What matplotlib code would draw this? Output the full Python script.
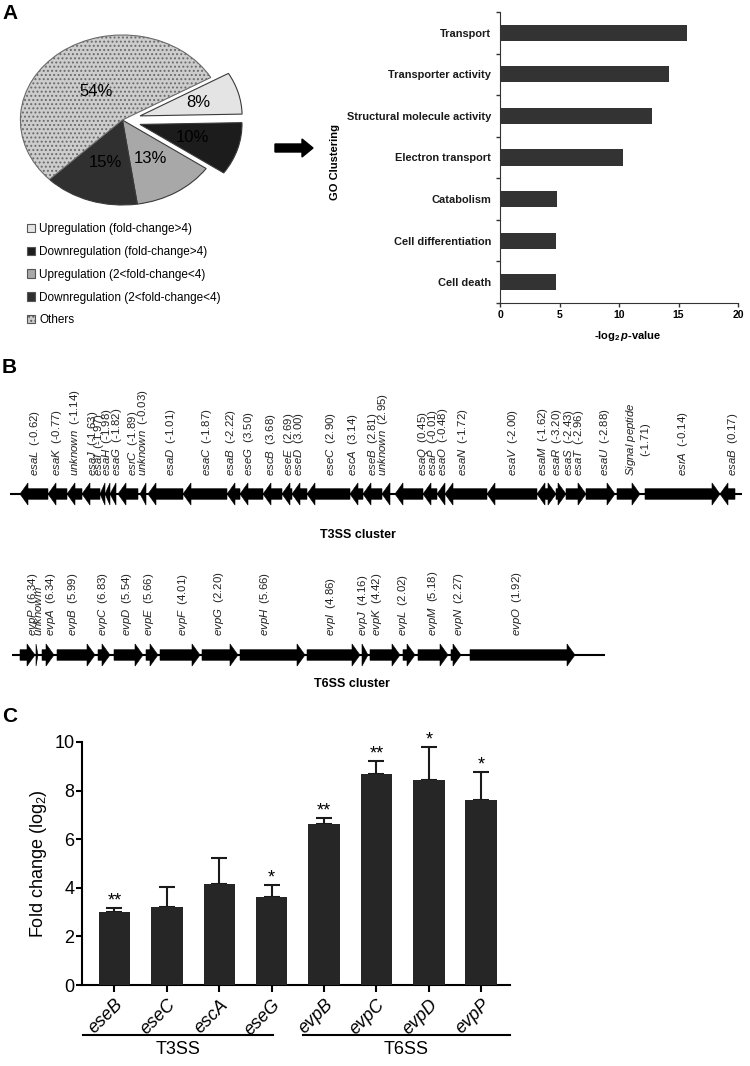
import matplotlib
matplotlib.use('Agg')
import matplotlib.pyplot as plt
from matplotlib.patches import Polygon, Patch, FancyArrow
from matplotlib.transforms import blended_transform_factory as blend
import numpy as np

plt.rcParams['font.family'] = ['Liberation Sans', 'DejaVu Sans']
plt.rcParams['mathtext.fontset'] = 'custom'
plt.rcParams['mathtext.rm'] = 'Liberation Sans'
plt.rcParams['mathtext.it'] = 'Liberation Sans:italic'
plt.rcParams['mathtext.bf'] = 'Liberation Sans:bold'
plt.rcParams['mathtext.bfit'] = 'Liberation Sans:italic:bold'
plt.rcParams['hatch.linewidth'] = 0.9

# ---------------- data ----------------
pie_labels = ['Upregulation (fold-change>4)', 'Downregulation (fold-change>4)',
              'Upregulation (2<fold-change<4)', 'Downregulation (2<fold-change<4)', 'Others']
pie_shares = [8, 10, 13, 15, 54]

go_terms = ['Transport', 'Transporter activity', 'Structural molecule activity',
            'Electron transport', 'Catabolism', 'Cell differentiation', 'Cell death']
go_values = [15.7, 14.2, 12.8, 10.3, 4.8, 4.7, 4.7]

t3_names = ['esaL', 'esaK', 'unknown', 'esaJ', 'esaI', 'esaH', 'esaG', 'esrC', 'unknown',
            'esaD', 'esaC', 'esaB', 'eseG', 'escB', 'eseE', 'eseD', 'eseC', 'escA', 'eseB',
            'unknown', 'esaQ', 'esaP', 'esaO', 'esaN', 'esaV', 'esaM', 'esaR', 'esaS', 'esaT',
            'esaU', 'Signal peptide', 'esrA', 'esaB']
t3_values = [-0.62, -0.77, -1.14, -1.63, -1.97, -1.98, -1.82, -1.89, -0.03,
             -1.01, -1.87, -2.22, 3.50, 3.68, 2.69, 3.00, 2.90, 3.14, 2.81,
             2.95, 0.45, -0.01, -0.48, -1.72, -2.00, -1.62, -3.20, -2.43, -2.96,
             -2.88, -1.71, -0.14, 0.17]
t3_start = [20, 48, 67, 82, 100, 105, 110, 118, 140, 148, 183, 227, 240, 263, 282, 292, 307,
            350, 363, 382, 395, 423, 437, 445, 487, 537, 547, 556, 566, 586, 617, 645, 720]
t3_end = [48, 67, 82, 100, 105, 110, 116, 138, 146, 183, 227, 240, 263, 282, 292, 307, 350,
          363, 382, 390, 423, 437, 445, 487, 537, 547, 556, 566, 586, 615, 640, 720, 735]
t3_strand = [-1] * 26 + [1, 1, 1, 1, 1, 1, -1]

t6_names = ['evpP', 'unknowm', 'evpA', 'evpB', 'evpC', 'evpD', 'evpE', 'evpF', 'evpG',
            'evpH', 'evpI', 'evpJ', 'evpK', 'evpL', 'evpM', 'evpN', 'evpO']
t6_values = [6.34, None, 6.34, 5.99, 6.83, 5.54, 5.66, 4.01, 2.20,
             5.66, 4.86, 4.16, 4.42, 2.02, 5.18, 2.27, 1.92]
t6_start = [20, 36, 42, 57, 98, 114, 146, 160, 202, 240, 307, 362, 370, 403, 418, 451, 470]
t6_end = [35, 38, 54, 95, 110, 143, 158, 200, 238, 305, 360, 368, 400, 415, 448, 461, 575]
t6_strand = [1] * 17

c_genes = ['eseB', 'eseC', 'escA', 'eseG', 'evpB', 'evpC', 'evpD', 'evpP']
c_values = [3.02, 3.2, 4.17, 3.62, 6.63, 8.67, 8.44, 7.6]
c_errors = [0.14, 0.82, 1.07, 0.51, 0.26, 0.56, 1.34, 1.15]
c_stars = ['**', '', '', '*', '**', '**', '*', '*']
c_groups = ['T3SS', 'T6SS']

# ---------------- layout helpers ----------------
W, H = 750, 1066
fig = plt.figure(figsize=(W / 100, H / 100), dpi=100)


def rect(x0, y0, x1, y1):
    return [x0 / W, 1 - y1 / H, (x1 - x0) / W, (y1 - y0) / H]


ov = fig.add_axes([0, 0, 1, 1])
ov.set_xlim(0, W)
ov.set_ylim(H, 0)
ov.axis('off')
ov.set_zorder(10)

for letter, (lx, ly) in zip('ABC', [(2, 4), (2, 358), (2, 707)]):
    ov.text(lx, ly, letter, fontsize=15, weight='bold', ha='left', va='top')

# ---------------- Panel A: pie ----------------
pie_colors = ['#e4e4e4', '#1c1c1c', '#a8a8a8', '#303030', '#cdcdcd']
pa = fig.add_axes(rect(0, 26.5, 255, 213.5))
wedges, texts, autotexts = pa.pie(
    pie_shares, explode=[0.18, 0.18, 0, 0, 0], colors=pie_colors, startangle=30,
    counterclock=False, autopct='%d%%', pctdistance=0.55,
    wedgeprops=dict(edgecolor='#3a3a3a', linewidth=0.8),
    textprops=dict(fontsize=12, color='black'))
wedges[4].set_hatch('....')
wedges[4].set_edgecolor('#6a6a6a')
for w, t, d in zip(wedges, autotexts, [0.59, 0.54, 0.53, 0.53, 0.42]):
    mid = np.deg2rad((w.theta1 + w.theta2) / 2)
    cxw, cyw = w.center
    t.set_position((cxw + d * w.r * np.cos(mid), cyw + d * w.r * np.sin(mid)))
pa.set_aspect('auto')
pa.set_xlim(-1.2, 1.3)
pa.set_ylim(-1.1, 1.1)

handles = [Patch(facecolor=c, edgecolor='#555555', linewidth=0.8) for c in pie_colors]
handles[4].set_hatch('....')
fig.legend(handles, pie_labels, loc='upper left', bbox_to_anchor=(27 / W, 1 - 223 / H),
           frameon=False, fontsize=8.5, handlelength=0.7, handleheight=0.7,
           handletextpad=0.35, labelspacing=0.92, borderaxespad=0, borderpad=0)

ov.add_patch(FancyArrow(275, 148, 38, 0, width=8, head_width=18, head_length=11,
                        length_includes_head=True, color='black'))

# ---------------- Panel A: GO bars ----------------
narrow = ['Liberation Sans Narrow', 'Liberation Sans']
gx = fig.add_axes(rect(500, 12, 738, 303))
gy = np.arange(len(go_terms))
gx.barh(gy, go_values, height=0.39, color='#333333')
gx.set_xlim(0, 20)
gx.set_ylim(len(go_terms) - 0.5, -0.5)
gx.set_yticks(gy)
gx.set_yticklabels(go_terms, fontsize=7.9, family=narrow, weight='bold', color='#1a1a1a')
gx.set_yticks(np.arange(-0.5, len(go_terms)), minor=True)
gx.tick_params(axis='y', which='major', length=0, pad=6.5)
gx.tick_params(axis='y', which='minor', length=3, width=1, color='#333333')
gx.set_xticks([0, 5, 10, 15, 20])
gx.set_xticklabels(['0', '5', '10', '15', '20'], fontsize=7.5, family=narrow, weight='bold')
gx.tick_params(axis='x', length=3, width=1, color='#333333', pad=2)
gx.spines[['top', 'right']].set_visible(False)
for sp in ['left', 'bottom']:
    gx.spines[sp].set_color('#333333')
ov.text(628, 336, r'-log$_\mathbf{2}$$\,\mathbfit{p}$-value', fontsize=8, weight='bold',
        ha='center', va='center')
ov.text(335, 162, 'GO Clustering', rotation=90, fontsize=8, weight='bold',
        ha='center', va='center')

# ---------------- Panel B: gene clusters ----------------


def gene_polygon(s, e, strand, head=8.0, hh=0.46, hb=0.22):
    hl = min(head, e - s)
    if strand > 0:
        base, tip = e - hl, e
        return [(s, -hb), (base, -hb), (base, -hh), (tip, 0), (base, hh), (base, hb), (s, hb)]
    base, tip = s + hl, s
    return [(e, -hb), (base, -hb), (base, -hh), (tip, 0), (base, hh), (base, hb), (e, hb)]


def draw_track(ax, starts, ends, strands, line_span):
    ax.set_xlim(0, W)
    ax.set_ylim(-0.5, 0.5)
    ax.axis('off')
    ax.plot(line_span, [0, 0], color='black', lw=1.5, solid_capstyle='butt')
    for s, e, d in zip(starts, ends, strands):
        ax.add_patch(Polygon(gene_polygon(s, e, d), closed=True, facecolor='black',
                             edgecolor='black', lw=0.4))


def label_text(name, val):
    it = r'$\mathit{' + name.replace(' ', r'\ ') + '}$'
    if val is None:
        return it
    num = ('%.2f' % val)
    if name == 'Signal peptide':
        return it + '\n(' + num + ')'
    return it + '  (' + num + ')'


def gene_labels(ax, names, values, label_x, y_bottom):
    tr = blend(ax.transData, ov.transData)
    for name, val, lx in zip(names, values, label_x):
        multi = name == 'Signal peptide'
        # for two-line labels the anchor is the baseline of the last line
        xa = lx + 3.5 + (17 if multi else 0)
        ax.text(xa, y_bottom, label_text(name, val), transform=tr, rotation=90,
                rotation_mode='anchor', ha='left', va='baseline', fontsize=8.2,
                color='#222222', multialignment='center',
                linespacing=1.3 if multi else 1.0)


t3_label_x = [35, 57, 75, 92, 99, 107, 116, 133, 142, 170, 207, 230, 248, 270, 288, 299, 330,
              353, 373, 383, 423, 433, 443, 463, 513, 543, 557, 568, 578, 605, 625, 682, 733]
t6_label_x = [32, 39, 50, 73, 103, 127, 148, 182, 218, 265, 330, 363, 377, 403, 432, 458, 517]

b3 = fig.add_axes(rect(0, 482, W, 506))
draw_track(b3, t3_start, t3_end, t3_strand, [10, 742])
gene_labels(b3, t3_names, t3_values, t3_label_x, 476)
ov.text(358, 535, 'T3SS cluster', fontsize=9, weight='bold', ha='center', va='center')

b6 = fig.add_axes(rect(0, 643, W, 667))
draw_track(b6, t6_start, t6_end, t6_strand, [12, 605])
gene_labels(b6, t6_names, t6_values, t6_label_x, 636)
ov.text(352, 684, 'T6SS cluster', fontsize=9, weight='bold', ha='center', va='center')

# ---------------- Panel C ----------------
cx = fig.add_axes(rect(82, 742, 510, 985))
xc = np.arange(len(c_genes))
cx.bar(xc, c_values, width=0.6, color='#262626', zorder=3)
cx.errorbar(xc, c_values, yerr=[np.zeros(len(xc)), c_errors], fmt='none', ecolor='#1a1a1a',
            elinewidth=1.5, capsize=6, capthick=1.5, zorder=2)
for xi, v, e, s in zip(xc, c_values, c_errors, c_stars):
    if s:
        cx.text(xi, v + e + 0.1, s, ha='center', va='baseline', fontsize=13)
cx.set_xlim(-0.62, 7.55)
cx.set_ylim(0, 10)
cx.set_yticks(range(0, 11, 2))
cx.set_xticks(xc)
cx.set_xticklabels(c_genes, rotation=45, ha='right', va='top', rotation_mode='anchor',
                   style='italic', fontsize=13)
cx.spines[['top', 'right']].set_visible(False)
for sp in ['left', 'bottom']:
    cx.spines[sp].set_linewidth(1.5)
cx.tick_params(axis='y', width=1.5, length=4.5, labelsize=13, pad=1)
cx.tick_params(axis='x', width=1.5, length=5, pad=3)
cx.set_ylabel('Fold change (log$_2$)', fontsize=13, labelpad=4)

trc = blend(cx.transData, ov.transData)
for name, (g0, g1) in zip(c_groups, [(-0.6, 3.02), (3.6, 7.55)]):
    cx.plot([g0, g1], [1035, 1035], transform=trc, clip_on=False, color='black', lw=1.5)
    cx.text((g0 + g1) / 2, 1049, name, transform=trc, ha='center', va='center', fontsize=13)

fig.savefig('out.png', dpi=100)
